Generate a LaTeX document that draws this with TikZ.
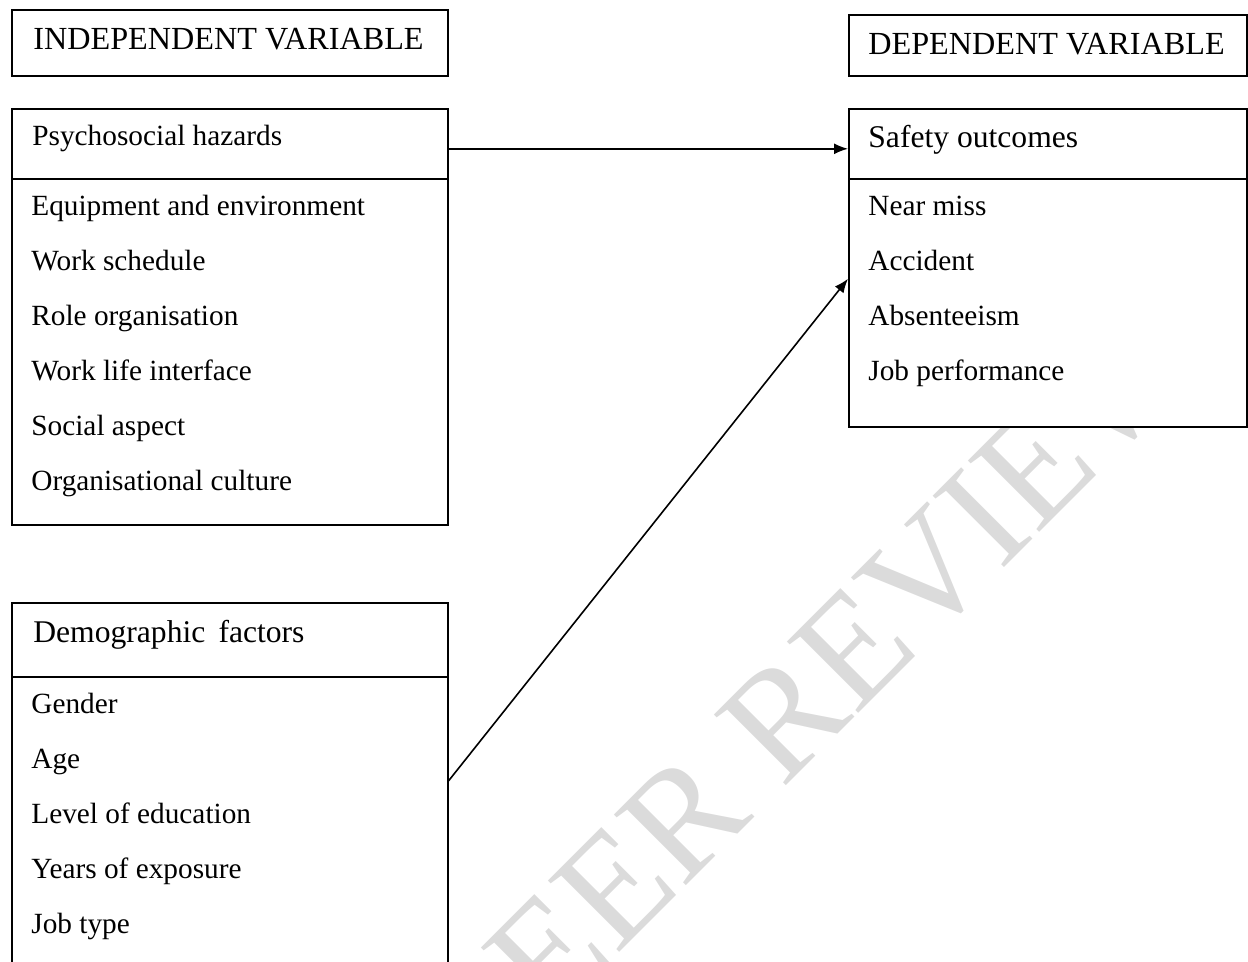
\documentclass[tikz,border=0pt]{standalone}
\usepackage{fontspec}
\setmainfont{Liberation Serif}
\usetikzlibrary{arrows.meta}

\begin{document}
\begin{tikzpicture}[x=0.5pt,y=-0.5pt,>={Latex[length=7pt,width=5.5pt]}]
			\tikzstyle{every edge}=[draw,line width=0.8pt,color=black]
			\tikzstyle{varbox}=[draw,line width=0.8pt,fill=white,inner sep=0pt,anchor=north west]
			\tikzstyle{itemtext}=[anchor=base west,inner sep=0pt,font=\fontsize{14.65}{17}\selectfont]
			\tikzstyle{titletext}=[anchor=base west,inner sep=0pt,font=\fontsize{15.8}{18}\selectfont]

			\clip (0,0) rectangle (1248,962);

			\node (mark) at (489,1083) [anchor=base west,rotate=45,inner sep=0pt,color=black!14,font=\fontsize{77}{77}\selectfont] {PEER REVIEW};

			\node (indep) at (11,9) [varbox,minimum width=218pt,minimum height=33pt] {};
			\node (indeptext) at (33,50) [titletext,font=\fontsize{16.1}{18}\selectfont] {INDEPENDENT VARIABLE};
			\node (dep) at (848,14) [varbox,minimum width=199pt,minimum height=30.5pt] {};
			\node (deptext) at (868,55) [titletext,font=\fontsize{16.1}{18}\selectfont] {DEPENDENT VARIABLE};

			\node (psyhead) at (11,108) [varbox,minimum width=218pt,minimum height=35pt] {};
			\node (psybody) at (11,178) [varbox,minimum width=218pt,minimum height=173pt] {};
			\node (psytitle) at (32,146) [itemtext] {Psychosocial hazards};
			\node (psy1) at (31,216) [itemtext] {Equipment and environment};
			\node (psy2) at (31,271) [itemtext] {Work schedule};
			\node (psy3) at (31,326) [itemtext] {Role organisation};
			\node (psy4) at (31,381) [itemtext] {Work life interface};
			\node (psy5) at (31,436) [itemtext] {Social aspect};
			\node (psy6) at (31,491) [itemtext] {Organisational culture};

			\node (safehead) at (848,108) [varbox,minimum width=199pt,minimum height=35pt] {};
			\node (safebody) at (848,178) [varbox,minimum width=199pt,minimum height=124pt] {};
			\node (safetitle) at (868,148) [titletext] {Safety outcomes};
			\node (safe1) at (868,216) [itemtext] {Near miss};
			\node (safe2) at (868,271) [itemtext] {Accident};
			\node (safe3) at (868,326) [itemtext] {Absenteeism};
			\node (safe4) at (868,381) [itemtext] {Job performance};

			\node (demohead) at (11,602) [varbox,minimum width=218pt,minimum height=37pt] {};
			\node (demobody) at (11,676) [varbox,minimum width=218pt,minimum height=150pt] {};
			\node (demotitle) at (33,642) [titletext] {Demographic \,factors};
			\node (demo1) at (31,713) [itemtext] {Gender};
			\node (demo2) at (31,768) [itemtext] {Age};
			\node (demo3) at (31,823) [itemtext] {Level of education};
			\node (demo4) at (31,878) [itemtext] {Years of exposure};
			\node (demo5) at (31,933) [itemtext] {Job type};

			\path [->] ([yshift=-2.5pt]psyhead.east) edge ([yshift=-2.5pt]safehead.west);
			\path [->] ([yshift=23pt]demobody.east) edge ([yshift=12pt]safebody.west);
		\end{tikzpicture}
\end{document}
